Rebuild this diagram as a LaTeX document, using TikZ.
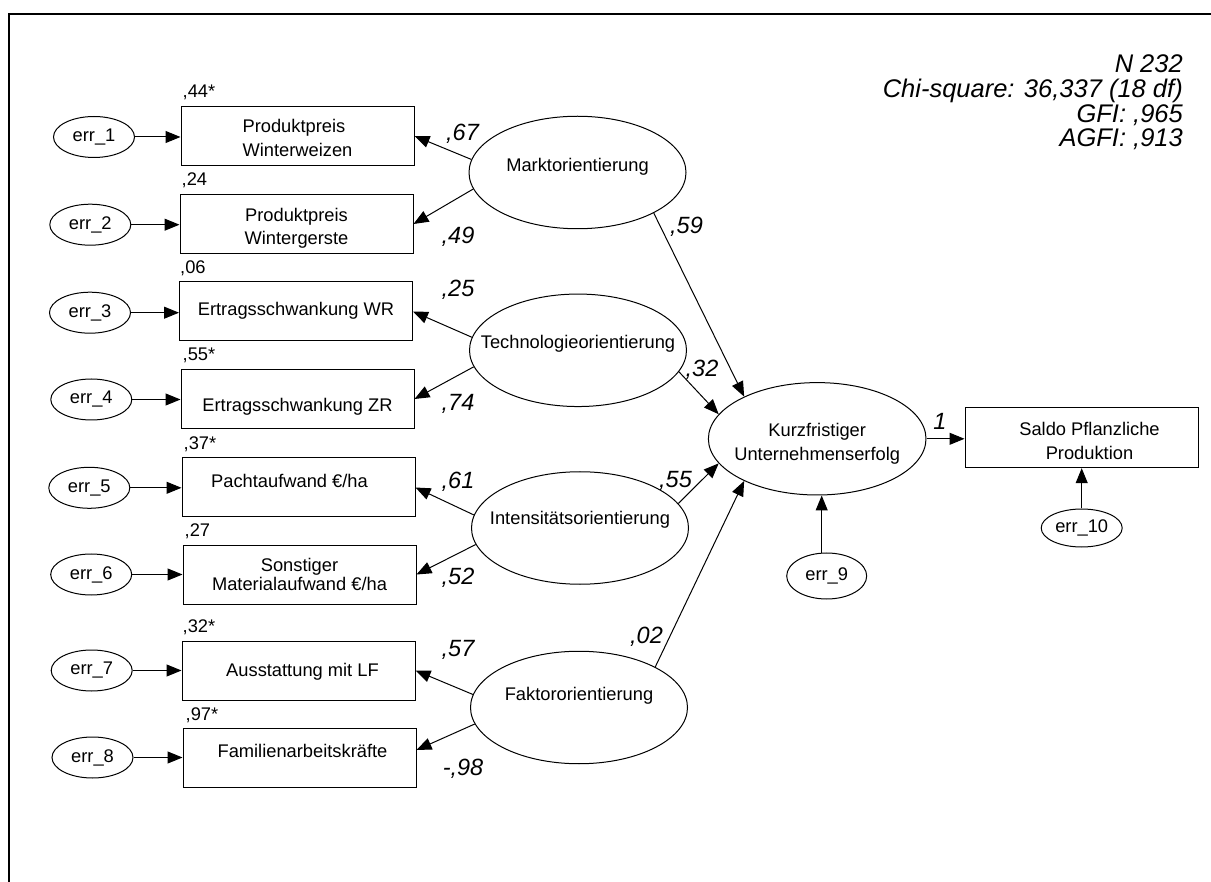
\documentclass[tikz,border=0pt]{standalone}
\usepackage{fontspec}
\setmainfont{Liberation Sans}
\usetikzlibrary{arrows.meta,shapes.geometric}
\newcommand{\zbox}[1]{\makebox[0pt]{#1}}
\newcommand{\tallstrut}[1]{\rule{0pt}{#1}}
\begin{document}
\begin{tikzpicture}[x=1pt,y=-1pt,
  every node/.style={font=\fontsize{18.3}{23.5}\selectfont},
  obs/.style={draw, line width=1pt, rectangle, minimum width=233pt, minimum height=59pt, inner sep=2pt, align=center},
  lat/.style={draw, line width=1pt, ellipse, inner sep=0pt, minimum width=217pt, minimum height=112.5pt, text height=13.4pt},
  errn/.style={draw, line width=1pt, ellipse, inner sep=0pt, minimum width=81pt, minimum height=41pt},
  arr/.style={line width=1pt, -{Triangle[length=15pt,width=12pt]}},
  coef/.style={font=\fontsize{23.5}{26}\selectfont\itshape, inner sep=0pt},
  rsq/.style={anchor=base west, inner sep=0pt}
]
\useasboundingbox (0,0) rectangle (1211,882);
\draw[line width=2pt] (9,890) -- (9,14) -- (1220,14);

% statistics
\node[anchor=north east, inner sep=0pt, align=right, font=\fontsize{25.5}{24.7}\selectfont\itshape] (stats) at (1183,54.7)
  {N 232\\Chi-square: 36,337 (18 df)\\GFI: ,965\\AGFI: ,913};

% observed boxes
\node[obs, align=left] (b1) at (297.5,136) {\tallstrut{17.4pt}Produktpreis\\Winterweizen};
\node[obs] (b2) at (296.5,224) {\tallstrut{21.8pt}Produktpreis\\Wintergerste};
\node[obs, text height=13.4pt, text depth=4.4pt] (b3) at (296,311.5) {Ertragsschwankung WR};
\node[obs, text height=25.4pt, text depth=0pt] (b4) at (297.5,399) {Ertragsschwankung ZR};
\node[obs, text height=13.4pt, text depth=12.4pt] (b5) at (298.5,487.5) {Pachtaufwand €/ha\hspace{18pt}};
\node[obs, font=\fontsize{18.3}{19}\selectfont] (b6) at (299.5,574.5) {Sonstiger\\Materialaufwand €/ha};
\node[obs, text height=13.4pt, text depth=2.4pt] (b7) at (298.5,670.5) {\hspace{8pt}Ausstattung mit LF};
\node[obs, text height=13.4pt, text depth=14.8pt] (b8) at (299.5,758) {\hspace{6pt}Familienarbeitskräfte};

% r-square labels
\node[rsq] (r1) at ([shift={(2,-8)}]b1.north west) {,44*};
\node[rsq] (r2) at ([shift={(2,-8)}]b2.north west) {,24};
\node[rsq] (r3) at ([shift={(1,-8)}]b3.north west) {,06};
\node[rsq] (r4) at ([shift={(2,-8)}]b4.north west) {,55*};
\node[rsq] (r5) at ([shift={(2,-8)}]b5.north west) {,37*};
\node[rsq] (r6) at ([shift={(2,-8)}]b6.north west) {,27};
\node[rsq] (r7) at ([shift={(1,-8)}]b7.north west) {,32*};
\node[rsq] (r8) at ([shift={(3,-8)}]b8.north west) {,97*};

% error terms
\node[errn] (e1) at (94,137) {\zbox{err\_1}};
\node[errn] (e2) at (90.3,224.7) {\zbox{err\_2}};
\node[errn] (e3) at (90,312.7) {\zbox{err\_3}};
\node[errn] (e4) at (91.3,399.5) {\zbox{err\_4}};
\node[errn] (e5) at (89.3,487.8) {\zbox{err\_5}};
\node[errn] (e6) at (91.2,574.5) {\zbox{err\_6}};
\node[errn] (e7) at (91.7,670.5) {\zbox{err\_7}};
\node[errn] (e8) at (92.5,757.5) {\zbox{err\_8}};
\node[errn, minimum width=80pt, minimum height=46pt] (e9) at (826.7,576) {\zbox{err\_9}};
\node[errn, minimum width=81pt, minimum height=38pt] (e10) at (1081.7,528) {\zbox{err\_10}};

% latent variables
\node[lat, text depth=15pt] (m) at (577.5,172.5) {\zbox{Marktorientierung}};
\node[lat, text depth=17.4pt] (t) at (578,350.3) {\zbox{Technologieorientierung}};
\node[lat, text depth=19.4pt] (i) at (580,528) {\zbox{Intensitätsorientierung}};
\node[lat, text depth=28.4pt] (f) at (579,707.5) {\zbox{Faktororientierung}};
\node[draw, line width=1pt, ellipse, inner sep=0pt, minimum width=217.6pt, minimum height=112.4pt, align=center, font=\fontsize{18.3}{24}\selectfont] (k) at (817.2,438.8)
  {\zbox{\tallstrut{22.2pt}Kurzfristiger}\\\zbox{Unternehmenserfolg}};
\node[obs, minimum height=60pt, font=\fontsize{18.3}{24}\selectfont] (s) at (1081.5,437.7)
  {\hspace*{16pt}\tallstrut{20.6pt}Saldo Pflanzliche\\\hspace*{16pt}Produktion};

% error arrows
\foreach \n in {1,...,8}{
  \draw[arr] (e\n.east) -- (e\n.east -| b\n.west);
}
\draw[arr] ([xshift=-5pt]e9.north) -- ([xshift=-5pt]e9.north |- k.south);
\draw[arr] (e10.north) -- (e10.north |- s.south);

% loadings
\draw[arr] (m.173) -- (b1.east);
\draw[arr] (m.189) -- (b2.east);
\draw[arr] (t.173) -- (b3.east);
\draw[arr] (t.189) -- (b4.east);
\draw[arr] (i.173) -- (b5.east);
\draw[arr] (i.189) -- (b6.east);
\draw[arr] (f.173) -- (b7.east);
\draw[arr] (f.189) -- ([yshift=8pt]b8.east);

% structural paths
\draw[arr] (m.332) -- (k.150);
\draw[arr] (t.348) -- (k.166);
\draw[arr] (i.14) -- (k.194);
\draw[arr] (f.28) -- (k.210);
\draw[arr] (k.east) -- (k.east -| s.west);

% coefficients
\node[coef] (c1) at (462.5,133.5) {,67};
\node[coef] (c2) at (458,237) {,49};
\node[coef] (c3) at (458,290) {,25};
\node[coef] (c4) at (458,404) {,74};
\node[coef] (c5) at (458,482) {,61};
\node[coef] (c6) at (458,578) {,52};
\node[coef] (c7) at (458,650) {,57};
\node[coef] (c8) at (463,769) {-,98};
\node[coef] (c9) at (686.5,226.5) {,59};
\node[coef] (c10) at (702,369.5) {,32};
\node[coef] (c11) at (675.5,480.5) {,55};
\node[coef] (c12) at (646.5,636.5) {,02};
\node[coef] (c13) at (940,421.3) {1};
\end{tikzpicture}
\end{document}
